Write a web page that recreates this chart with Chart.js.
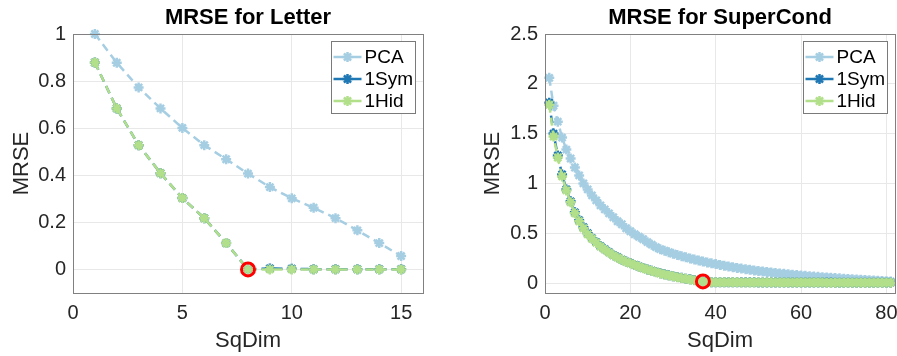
<!DOCTYPE html>
<html><head><meta charset="utf-8">
<script src="https://cdn.jsdelivr.net/npm/chart.js@4/dist/chart.umd.min.js"></script>
<style>
html,body{margin:0;padding:0;background:#fff;}
#wrap{position:relative;width:897px;height:356px;overflow:hidden;background:#fff}
canvas{position:absolute;top:0}
#c1{left:0}
#c2{left:471px}
</style></head><body>
<div id="wrap"><canvas id="c1" width="450" height="356"></canvas><canvas id="c2" width="426" height="356"></canvas></div>
<script>
// ---------- DATA ----------
const seriesNames = ['PCA', '1Sym', '1Hid'];
const seriesColors = ['#a6cee3', '#1f78b4', '#b2df8a'];

const letterDims = [1,2,3,4,5,6,7,8,9,10,11,12,13,14,15];
const letterPCA  = [1.0,0.878,0.773,0.684,0.601,0.528,0.468,0.407,0.350,0.302,0.262,0.218,0.166,0.112,0.057];
const letterSym  = [0.879,0.684,0.528,0.409,0.303,0.218,0.112,0.0,0.004,0.003,0.001,0.001,0.001,0.001,0.001];
const letterHid  = [0.879,0.684,0.528,0.409,0.303,0.218,0.112,0.0,0.0,0.0,0.0,0.0,0.0,0.0,0.0];
const letterMarkX = [8];
const letterMarkY = [0];

const superDims = [1,2,3,4,5,6,7,8,9,10,11,12,13,14,15,16,17,18,19,20,21,22,23,24,25,26,27,28,29,30,31,32,33,34,35,36,37,38,39,40,41,42,43,44,45,46,47,48,49,50,51,52,53,54,55,56,57,58,59,60,61,62,63,64,65,66,67,68,69,70,71,72,73,74,75,76,77,78,79,80,81];
const superPCA = [2.06,1.78,1.62,1.46,1.34,1.25,1.16,1.08,1.00,0.94,
  0.88,0.83,0.78,0.74,0.70,0.66,0.62,0.59,0.55,0.52,
  0.49,0.465,0.44,0.41,0.385,0.36,0.34,0.325,0.31,0.295,
  0.282,0.27,0.258,0.247,0.236,0.226,0.216,0.207,0.198,0.19,
  0.182,0.174,0.166,0.159,0.152,0.145,0.139,0.133,0.127,0.121,
  0.116,0.111,0.106,0.101,0.096,0.092,0.088,0.084,0.08,0.076,
  0.072,0.069,0.065,0.062,0.059,0.056,0.053,0.05,0.047,0.044,
  0.041,0.038,0.036,0.033,0.031,0.028,0.026,0.023,0.021,0.018,0.016];
const superSym = [1.81,1.50,1.28,1.09,0.94,0.82,0.71,0.63,0.56,0.50,
  0.45,0.41,0.37,0.34,0.31,0.28,0.26,0.235,0.215,0.20,
  0.182,0.166,0.151,0.137,0.124,0.111,0.099,0.088,0.078,0.069,
  0.060,0.052,0.044,0.037,0.030,0.023,0.016,0.011,0.009,0.008,
  0.008,0.008,0.008,0.007,0.007,0.007,0.007,0.007,0.007,0.006,
  0.006,0.006,0.006,0.006,0.006,0.006,0.005,0.005,0.005,0.005,
  0.005,0.005,0.005,0.005,0.005,0.005,0.005,0.004,0.004,0.004,
  0.004,0.004,0.004,0.004,0.004,0.004,0.004,0.004,0.004,0.004,0.004];
const superHid = [1.79,1.47,1.26,1.07,0.93,0.81,0.70,0.62,0.55,0.49,
  0.445,0.405,0.365,0.335,0.305,0.278,0.255,0.233,0.213,0.198,
  0.18,0.164,0.149,0.135,0.122,0.109,0.097,0.086,0.076,0.067,
  0.058,0.05,0.042,0.035,0.028,0.021,0.014,0.009,0.008,0.007,
  0.007,0.007,0.007,0.007,0.007,0.006,0.006,0.006,0.006,0.006,
  0.006,0.006,0.006,0.005,0.005,0.005,0.005,0.005,0.005,0.005,
  0.005,0.005,0.005,0.005,0.005,0.004,0.004,0.004,0.004,0.004,
  0.004,0.004,0.004,0.004,0.004,0.004,0.004,0.004,0.004,0.004,0.004];
const superMarkX = [37];
const superMarkY = [0.016];

const letterXTicks = {min: 0, max: 16, step: 5};
const letterYTicks = {min: -0.1, max: 1, step: 0.2};
const superXTicks = {min: 0, max: 82, step: 20};
const superYTicks = {min: -0.1, max: 2.5, step: 0.5};

// ---------- HELPERS ----------
Chart.defaults.font.family = '"Liberation Sans", Arial, Helvetica, sans-serif';
Chart.defaults.color = '#262626';

function pts(xs, ys) { return xs.map((x, i) => ({x: x, y: ys[i]})); }
function fmt(v) { return String(+Number(v).toFixed(3)); }

const boxPlugin = {
  id: 'boxPlugin',
  afterDatasetsDraw(chart) {
    const ctx = chart.ctx, a = chart.chartArea;
    ctx.save();
    ctx.strokeStyle = '#808080';
    ctx.lineWidth = 1;
    ctx.strokeRect(Math.round(a.left) + 0.5, Math.round(a.top) + 0.5, Math.round(a.right - a.left), Math.round(a.bottom - a.top));
    ctx.restore();
  },
  afterDraw(chart) {
    const ctx = chart.ctx, a = chart.chartArea;
    const items = chart.data.datasets.filter(d => !d.noLegend);
    const w = 84, h = 72;
    const x = Math.round(a.right - 8 - w) + 0.5, y = Math.round(a.top + 7) + 0.5;
    ctx.save();
    ctx.fillStyle = '#fff';
    ctx.fillRect(x, y, w, h);
    ctx.strokeStyle = '#7a7a7a';
    ctx.lineWidth = 1;
    ctx.strokeRect(x, y, w, h);
    const rows = [15.5, 37.5, 59.5];
    items.forEach((d, i) => {
      const cy = y + rows[i];
      ctx.strokeStyle = d.borderColor;
      ctx.fillStyle = d.borderColor;
      ctx.lineWidth = 2.5;
      ctx.setLineDash([]);
      ctx.beginPath(); ctx.moveTo(x + 2, cy); ctx.lineTo(x + 30, cy); ctx.stroke();
      Chart.helpers.drawPoint(ctx, {pointStyle: 'star', radius: 5, borderWidth: 2.5, rotation: 0}, x + 16, cy);
      ctx.fillStyle = '#000';
      ctx.font = '19px "Liberation Sans", Arial, sans-serif';
      ctx.textAlign = 'left';
      ctx.textBaseline = 'middle';
      ctx.fillText(d.label, x + 33, cy + 1);
    });
    ctx.restore();
  }
};

function makeChart(id, title, xs, ys3, markX, markY, xt, yt, yWidth, padRight) {
  const datasets = seriesNames.map((n, i) => ({
    label: n,
    data: pts(xs, ys3[i]),
    borderColor: seriesColors[i],
    backgroundColor: seriesColors[i],
    pointBackgroundColor: seriesColors[i],
    pointBorderColor: seriesColors[i],
    borderWidth: 2.5,
    borderDash: [8, 5],
    pointStyle: 'star',
    pointRadius: 5,
    pointBorderWidth: 2.5,
    order: 3 - i,
    clip: 8
  }));
  datasets.push({
    label: 'mark',
    noLegend: true,
    data: pts(markX, markY),
    showLine: false,
    borderColor: '#ff0000',
    backgroundColor: 'rgba(0,0,0,0)',
    pointBorderColor: '#ff0000',
    pointBackgroundColor: 'rgba(0,0,0,0)',
    pointStyle: 'circle',
    pointRadius: 6.5,
    pointBorderWidth: 3,
    order: 0,
    clip: 10
  });
  return new Chart(document.getElementById(id), {
    type: 'line',
    data: {datasets: datasets},
    options: {
      responsive: false,
      devicePixelRatio: 1,
      animation: false,
      events: [],
      layout: {autoPadding: false, padding: {left: 0, right: padRight, top: 0, bottom: 0}},
      plugins: {
        legend: {display: false},
        tooltip: {enabled: false},
        title: {
          display: true, text: title, color: '#000', fullSize: false,
          font: {size: 22, weight: 'bold', lineHeight: 1.0},
          padding: {top: 7, bottom: 5}
        }
      },
      scales: {
        x: {
          type: 'linear', min: xt.min, max: xt.max,
          ticks: {stepSize: xt.step, includeBounds: false, padding: 8, font: {size: 20}, color: '#262626', maxRotation: 0, callback: fmt},
          grid: {color: '#e8e8e8', drawTicks: false, lineWidth: 1},
          border: {display: false},
          title: {display: true, text: 'SqDim', font: {size: 22, lineHeight: 1.2}, color: '#262626', padding: {top: 0, bottom: 2}},
          afterFit(s) { s.height = 63; s.paddingLeft = 0; s.paddingRight = 0; }
        },
        y: {
          type: 'linear', min: yt.min, max: yt.max,
          ticks: {stepSize: yt.step, includeBounds: false, padding: 7, font: {size: 20}, color: '#262626', callback: fmt},
          grid: {color: '#e8e8e8', drawTicks: false, lineWidth: 1},
          border: {display: false},
          title: {display: true, text: 'MRSE', font: {size: 22, lineHeight: 1.2}, color: '#262626', padding: {top: 8.5, bottom: 0}},
          afterFit(s) { s.width = yWidth; s.paddingTop = 0; s.paddingBottom = 0; }
        }
      }
    },
    plugins: [boxPlugin]
  });
}

makeChart('c1', 'MRSE for Letter', letterDims, [letterPCA, letterSym, letterHid], letterMarkX, letterMarkY, letterXTicks, letterYTicks, 73, 27);
makeChart('c2', 'MRSE for SuperCond', superDims, [superPCA, superSym, superHid], superMarkX, superMarkY, superXTicks, superYTicks, 74, 2);
</script>
</body></html>
